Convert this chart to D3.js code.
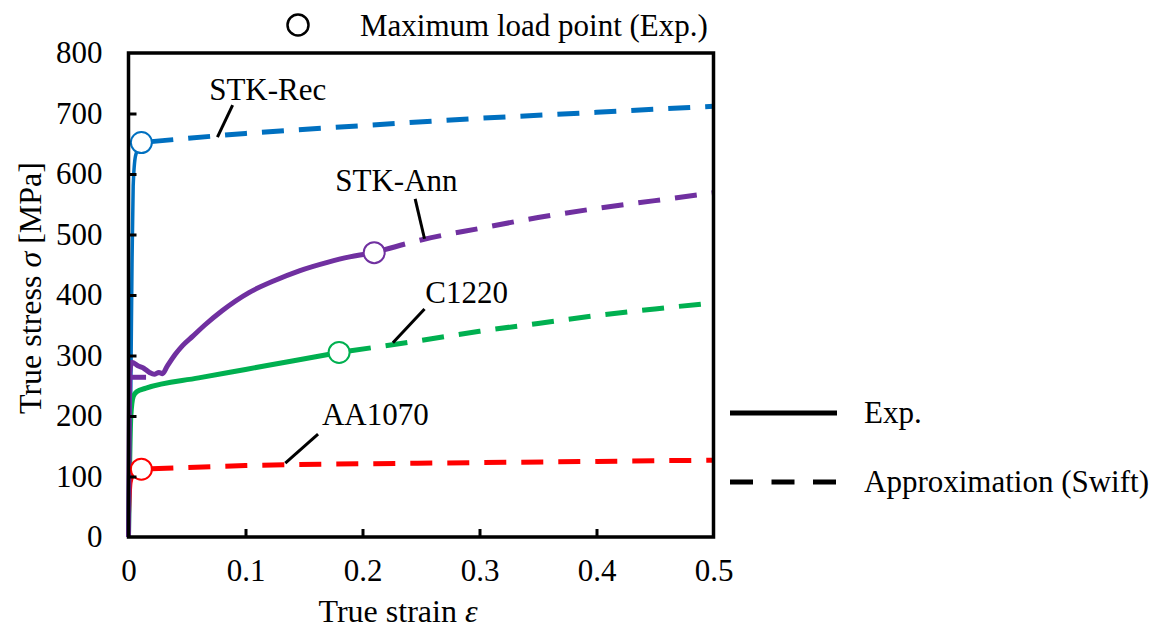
<!DOCTYPE html>
<html>
<head>
<meta charset="utf-8">
<script src="https://cdn.jsdelivr.net/npm/d3@7"></script>
<style>
  body { margin: 0; background: #fff; }
  svg text { font-family: "Liberation Serif", Tinos, "Times New Roman", Times, "DejaVu Serif", serif !important; fill: #000; }
</style>
</head>
<body>
<div id="grafico"></div>
<script>
// ---- datos ----
var xTicks = [0, 0.1, 0.2, 0.3, 0.4, 0.5];
var yTicks = [0, 100, 200, 300, 400, 500, 600, 700, 800];

var materiales = ["STK-Rec", "STK-Ann", "C1220", "AA1070"];
var colores = ["#0070C0", "#7030A0", "#00B050", "#FF0000"];

// experimental curves [strain, stress]
var expRec = [[0,0],[0.002,250],[0.003,450],[0.004,580],[0.006,630],[0.011,652]];
var expAnn = [[0,0],[0.001,270],[0.003,289],[0.008,283],[0.013,279],[0.018,272],[0.022,269],[0.026,272],
              [0.029,270],[0.033,282],[0.04,302],[0.046,316],[0.055,332],[0.065,350],[0.08,374],[0.103,404],
              [0.125,424],[0.146,440],[0.17,454],[0.189,463],[0.21,470]];
var expAnnTail = [[0,264],[0.015,264]];
var expC1220 = [[0,0],[0.002,200],[0.004,232],[0.007,240],[0.015,246],[0.06,263],[0.1,277],[0.14,291],[0.18,305]];
var expAA = [[0,0],[0.002,90],[0.005,105],[0.011,112]];

// Swift approximation
var swiftRec = [[0.011,652],[0.1,667],[0.2,680],[0.3,692],[0.4,702],[0.5,712]];
var swiftAnn = [[0.21,470],[0.25,491],[0.3,510],[0.35,528],[0.4,543],[0.45,556],[0.5,569]];
var swiftC1220 = [[0.18,305],[0.25,325],[0.3,340],[0.35,353],[0.4,366],[0.45,377],[0.5,387]];
var swiftAA = [[0.011,112],[0.1,118],[0.2,121],[0.3,123],[0.4,125],[0.5,127]];

// maximum load points
var maxPuntos = [[0.011,652],[0.21,470],[0.18,305],[0.011,112]];

// labels: [x, y baseline] and leader line [x1,y1,x2,y2]
var etiquetas = [[0.119,722],[0.229,572],[0.289,387],[0.211,185]];
var guias = [[0.089,714,0.076,661],[0.245,559,0.253,493],[0.253,377,0.226,321],[0.162,170,0.134,122]];

// ---- dibujo ----
var ancho = 1170, alto = 630;
var izq = 128.5, der = 713.5, arriba = 53, abajo = 537;

var svg = d3.select("#grafico").append("svg")
    .attr("width", ancho)
    .attr("height", alto);

var escalaX = d3.scaleLinear().domain([0, 0.5]).range([izq, der]);
var escalaY = d3.scaleLinear().domain([0, 800]).range([abajo, arriba]);

var linea = d3.line()
    .x(function(d){ return escalaX(d[0]); })
    .y(function(d){ return escalaY(d[1]); })
    .curve(d3.curveMonotoneX);

var expCurvas = [expRec, expAnn, expC1220, expAA];
var swiftCurvas = [swiftRec, swiftAnn, swiftC1220, swiftAA];

// dashed approximations
swiftCurvas.forEach(function(c, i){
    svg.append("path")
        .attr("d", linea(c))
        .attr("fill", "none")
        .attr("stroke", colores[i])
        .attr("stroke-width", 5)
        .attr("stroke-dasharray", "22,15")
        .attr("stroke-dashoffset", -10);
});

// experimental curves (order: blue, green, red, purple)
[0, 2, 3, 1].forEach(function(i){
    svg.append("path")
        .attr("d", linea(expCurvas[i]))
        .attr("fill", "none")
        .attr("stroke", colores[i])
        .attr("stroke-width", i == 0 || i == 3 ? 3.5 : 5)
        .attr("stroke-linejoin", "round");
});
svg.append("path")
    .attr("d", linea(expAnnTail))
    .attr("fill", "none")
    .attr("stroke", colores[1])
    .attr("stroke-width", 5);

// max load circles
svg.selectAll("circle.max")
    .data(maxPuntos)
    .enter()
    .append("circle")
    .attr("class", "max")
    .attr("cx", function(d){ return escalaX(d[0]); })
    .attr("cy", function(d){ return escalaY(d[1]); })
    .attr("r", 10.5)
    .attr("fill", "#fff")
    .attr("stroke", function(d, i){ return colores[i]; })
    .attr("stroke-width", 2);

// frame
svg.append("rect")
    .attr("x", izq).attr("y", arriba)
    .attr("width", der - izq).attr("height", abajo - arriba)
    .attr("fill", "none")
    .attr("stroke", "#000")
    .attr("stroke-width", 3.5);

// axes with inner ticks
var ejeX = svg.append("g")
    .attr("transform", "translate(0," + abajo + ")")
    .call(d3.axisBottom(escalaX).tickValues(xTicks).tickSizeInner(-8).tickSizeOuter(0).tickPadding(22)
        .tickFormat(function(d){ return d === 0 ? "0" : d3.format(".1f")(d); }));
var ejeY = svg.append("g")
    .attr("transform", "translate(" + izq + ",0)")
    .call(d3.axisLeft(escalaY).tickValues(yTicks).tickSizeInner(-8).tickSizeOuter(0).tickPadding(26));
[ejeX, ejeY].forEach(function(e){
    e.attr("font-family", null);
    e.select(".domain").remove();
    e.selectAll("line").attr("stroke", "#000").attr("stroke-width", 3);
    e.selectAll("text").attr("font-size", "31px");
});
ejeX.selectAll(".tick").filter(function(d){ return d === 0 || d === 0.5; }).select("line").remove();
ejeY.selectAll(".tick").filter(function(d){ return d === 0 || d === 800; }).select("line").remove();
ejeX.selectAll("text").attr("dy", "0.71em");

// axis titles
var tx = svg.append("text")
    .attr("x", 398)
    .attr("y", 622)
    .attr("text-anchor", "middle")
    .attr("font-size", "32px");
tx.append("tspan").text("True strain ");
tx.append("tspan").attr("font-style", "italic").text("ε");

var ty = svg.append("text")
    .attr("transform", "translate(41,288) rotate(-90)")
    .attr("text-anchor", "middle")
    .attr("font-size", "32px");
ty.append("tspan").text("True stress ");
ty.append("tspan").attr("font-style", "italic").text("σ");
ty.append("tspan").text(" [MPa]");

// leader lines and labels
svg.selectAll("line.guia")
    .data(guias)
    .enter()
    .append("line")
    .attr("x1", function(d){ return escalaX(d[0]); })
    .attr("y1", function(d){ return escalaY(d[1]); })
    .attr("x2", function(d){ return escalaX(d[2]); })
    .attr("y2", function(d){ return escalaY(d[3]); })
    .attr("stroke", "#000")
    .attr("stroke-width", 3);

svg.selectAll("text.etiqueta")
    .data(etiquetas)
    .enter()
    .append("text")
    .attr("class", "etiqueta")
    .attr("x", function(d){ return escalaX(d[0]); })
    .attr("y", function(d){ return escalaY(d[1]); })
    .attr("text-anchor", "middle")
    .attr("font-size", "31px")
    .text(function(d, i){ return materiales[i]; });

// legend top
svg.append("circle")
    .attr("cx", 298).attr("cy", 25).attr("r", 10.5)
    .attr("fill", "#fff").attr("stroke", "#000").attr("stroke-width", 2.5);
svg.append("text")
    .attr("x", 360).attr("y", 36)
    .attr("font-size", "31px")
    .text("Maximum load point (Exp.)");

// legend right
svg.append("line")
    .attr("x1", 730).attr("x2", 837).attr("y1", 413).attr("y2", 413)
    .attr("stroke", "#000").attr("stroke-width", 5);
svg.append("text")
    .attr("x", 864).attr("y", 423)
    .attr("font-size", "31px")
    .text("Exp.");
svg.append("line")
    .attr("x1", 730).attr("x2", 837).attr("y1", 482).attr("y2", 482)
    .attr("stroke", "#000").attr("stroke-width", 5)
    .attr("stroke-dasharray", "23,18.5");
svg.append("text")
    .attr("x", 864).attr("y", 492)
    .attr("font-size", "31px")
    .text("Approximation (Swift)");
</script>
</body>
</html>
